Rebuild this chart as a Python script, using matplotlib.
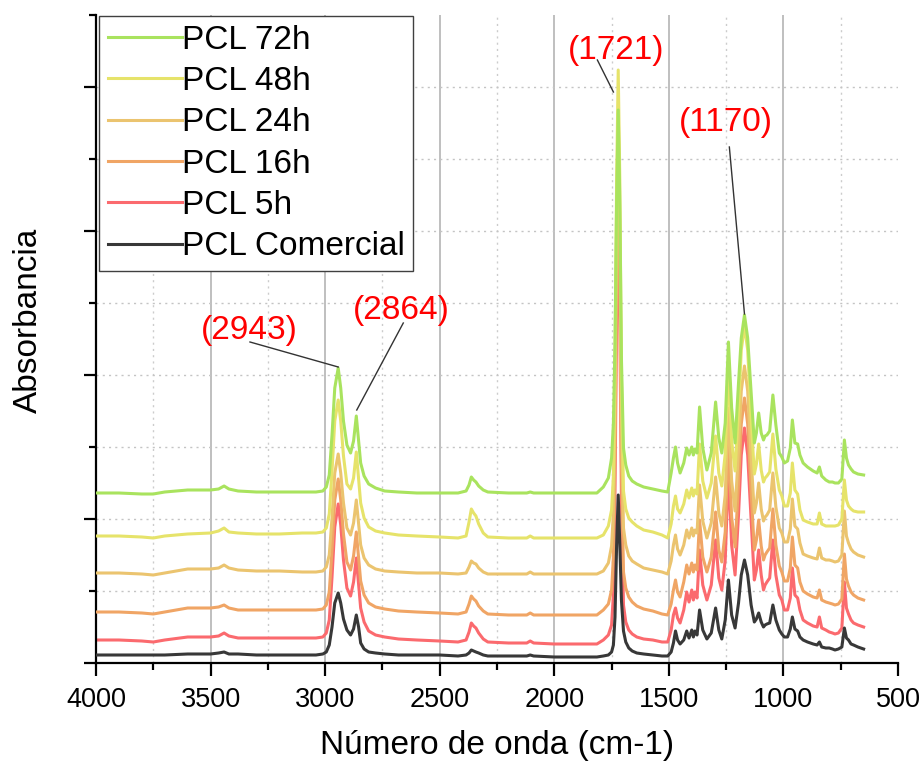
import matplotlib
matplotlib.use("Agg")
import matplotlib.pyplot as plt
from matplotlib.ticker import MultipleLocator, NullFormatter
import numpy as np

plt.rcParams['font.family'] = ['Liberation Sans', 'DejaVu Sans']

# FTIR spectra of PCL samples (absorbance in arbitrary units, before stacking)
wavenumber = [
    4000, 3900, 3800, 3750, 3700, 3600, 3500, 3465, 3441, 3420, 3380, 3300, 3200, 3100, 3040, 3010,
    2995, 2982, 2970, 2958, 2943, 2932, 2920, 2905, 2889, 2876, 2864, 2854, 2845, 2830, 2810, 2780, 2740, 2680,
    2600, 2500, 2420, 2385, 2372, 2362, 2352, 2342, 2330, 2310, 2290, 2200, 2120, 2105, 2090, 2000, 1900,
    1814, 1786, 1764, 1750, 1742, 1735, 1728, 1721, 1714, 1707, 1698, 1688, 1675, 1660, 1640, 1610, 1570, 1530, 1505,
    1490, 1480, 1471, 1462, 1451, 1435, 1422, 1412, 1400, 1393, 1386, 1377, 1366, 1352, 1334, 1315, 1296, 1282, 1269, 1254, 1240, 1226, 1211,
    1196, 1184, 1170, 1156, 1141, 1127, 1118, 1108, 1097, 1087, 1080, 1072, 1060, 1046, 1033, 1018, 1007,
    996, 982, 970, 961, 950, 938, 928, 914, 895, 870, 853, 843, 833, 815, 800, 786, 775, 760, 745, 734, 725, 716, 705, 694, 675, 650,
]

pcl_72h = [
    0, 0, -1, -1, 1, 3, 3, 4, 7, 4, 2, 1, 1, 1, 1, 2,
    6, 18, 58, 105, 125, 105, 72, 48, 40, 52, 77, 52, 30, 17, 9, 5, 2, 1,
    0, 0, 0, 2, 8, 16, 13, 11, 7, 3, 1, 0, 0, 1, 0, 0, 0,
    0, 6, 15, 35, 70, 150, 290, 383, 290, 135, 45, 28, 17, 12, 9, 6, 4, 2, 1,
    20, 35, 46, 30, 20, 30, 45, 38, 46, 38, 44, 40, 86, 45, 23, 40, 91, 55, 40, 70, 151, 85, 50,
    110, 155, 178, 155, 100, 50, 60, 80, 60, 53, 57, 58, 62, 98, 68, 40, 36,
    30, 32, 45, 73, 50, 49, 38, 30, 26, 22, 20, 26, 17, 13, 11, 11, 10, 10, 14, 53, 35, 28, 24, 21, 19, 18,
]

pcl_48h = [
    0, 0, -1, -2, 0, 2, 3, 5, 8, 4, 3, 2, 2, 3, 3, 4,
    8, 22, 65, 115, 136, 115, 80, 52, 47, 58, 84, 57, 33, 18, 9, 5, 3, 1,
    0, -1, -2, 0, 14, 27, 23, 20, 12, 3, -1, -2, -2, 0, -2, -2, -2,
    -2, 1, 10, 26, 60, 170, 355, 466, 355, 160, 45, 27, 18, 14, 10, 6, 4, 1, -2,
    12, 30, 40, 27, 23, 32, 46, 38, 48, 40, 46, 42, 92, 55, 38, 53, 100, 63, 50, 82, 170, 95, 65,
    126, 186, 210, 186, 118, 62, 72, 92, 66, 54, 58, 60, 64, 102, 67, 46, 40,
    30, 30, 43, 73, 46, 42, 26, 16, 14, 12, 12, 23, 12, 10, 10, 10, 10, 11, 17, 56, 36, 30, 27, 25, 24, 24,
]

pcl_24h = [
    0, 0, -1, -2, 0, 4, 4, 5, 8, 5, 3, 2, 2, 1, 1, 2,
    6, 18, 55, 100, 119, 100, 70, 45, 38, 50, 73, 49, 28, 15, 8, 4, 2, 1,
    0, 0, -1, 0, 6, 12, 10, 9, 5, 1, -1, -1, -1, 1, -1, -1, -1,
    -1, 2, 10, 27, 60, 165, 345, 455, 345, 155, 45, 28, 17, 12, 9, 5, 3, 1, -1,
    12, 28, 38, 24, 18, 28, 43, 35, 45, 37, 43, 40, 88, 52, 35, 50, 96, 60, 47, 78, 165, 92, 62,
    123, 182, 207, 182, 115, 60, 70, 90, 64, 52, 56, 58, 63, 100, 66, 45, 40,
    31, 31, 44, 74, 47, 44, 30, 19, 17, 15, 14, 25, 15, 13, 13, 12, 11, 12, 18, 62, 37, 30, 24, 21, 18, 16,
]

pcl_16h = [
    0, 0, -1, -2, 0, 4, 4, 5, 7, 4, 2, 2, 2, 2, 2, 3,
    7, 20, 62, 112, 133, 112, 78, 50, 42, 56, 80, 54, 31, 17, 9, 5, 3, 1,
    0, -1, -2, 0, 8, 16, 13, 11, 6, 1, -2, -3, -3, -1, -3, -3, -3,
    -3, 2, 8, 22, 55, 160, 340, 450, 340, 150, 40, 24, 15, 10, 6, 3, 1, -2, -3,
    8, 22, 32, 20, 15, 30, 47, 38, 49, 40, 47, 42, 92, 55, 40, 55, 100, 62, 50, 80, 170, 95, 65,
    128, 188, 214, 188, 120, 62, 72, 92, 66, 52, 57, 60, 64, 103, 67, 46, 40,
    31, 31, 44, 75, 47, 44, 30, 21, 18, 15, 14, 22, 12, 10, 9, 8, 7, 8, 13, 58, 33, 26, 20, 17, 14, 12,
]

pcl_5h = [
    0, 0, -1, -2, 0, 3, 3, 4, 7, 4, 2, 2, 2, 2, 2, 3,
    7, 20, 63, 113, 136, 115, 80, 52, 44, 58, 82, 55, 32, 18, 9, 5, 3, 1,
    0, -1, -2, 0, 8, 17, 14, 12, 7, 1, -2, -3, -3, -1, -3, -4, -4,
    -4, 0, 5, 15, 45, 150, 320, 430, 320, 140, 35, 18, 10, 6, 3, 1, 0, -2, -2,
    10, 25, 32, 22, 17, 30, 48, 38, 50, 40, 48, 42, 90, 55, 40, 55, 100, 62, 50, 80, 170, 95, 65,
    125, 185, 212, 185, 120, 60, 70, 90, 65, 50, 55, 58, 62, 100, 65, 45, 40,
    30, 30, 42, 72, 45, 42, 30, 20, 17, 14, 13, 23, 12, 10, 8, 7, 6, 7, 12, 58, 32, 26, 20, 17, 15, 13,
]

pcl_comercial = [
    0, 0, 0, 0, 0, 1, 1, 2, 3, 1, 1, 0, 0, 0, 0, 1,
    3, 10, 28, 52, 62, 52, 36, 25, 20, 26, 40, 28, 12, 6, 3, 2, 1, 0,
    0, 0, -1, 0, 2, 5, 4, 3, 2, 0, -1, -1, -1, 0, -1, -2, -2,
    -2, -1, 0, 3, 10, 38, 110, 160, 110, 55, 24, 13, 7, 4, 2, 1, 0, -1, -1,
    3, 12, 24, 15, 11, 15, 24, 17, 25, 18, 24, 20, 45, 25, 16, 22, 47, 25, 16, 35, 75, 40, 27,
    52, 80, 95, 80, 50, 33, 36, 42, 33, 28, 30, 31, 32, 50, 35, 25, 21,
    18, 18, 26, 38, 26, 24, 18, 15, 13, 11, 10, 13, 8, 7, 7, 6, 5, 6, 8, 27, 17, 15, 11, 10, 8, 6,
]

series_labels = ["PCL 72h", "PCL 48h", "PCL 24h", "PCL 16h", "PCL 5h", "PCL Comercial"]
series_values = [pcl_72h, pcl_48h, pcl_24h, pcl_16h, pcl_5h, pcl_comercial]
stack_offsets = [170, 127, 90, 51, 23, 8]
series_colors = ["#a9e35e", "#e6e36a", "#ebc46f", "#f0a565", "#fb6a6e", "#383838"]
series_zorder = [6, 5, 4, 3, 2, 7]

# Peak labels: text, text centre, connector end
peak_labels = ["(2943)", "(2864)", "(1721)", "(1170)"]
label_xy = [(3332, 332), (2669, 352), (1731, 612), (1251, 541)]
line_start = [(3328, 321), (2659, 340), (1812, 603), (1236, 516)]
line_end = [(2943, 296), (2862, 253), (1742, 571), (1170, 349)]

fig = plt.figure(figsize=(9.24, 7.62), dpi=100)
ax = fig.add_axes([96 / 924, 99 / 762, 802 / 924, 648 / 762])

x = np.array(wavenumber, dtype=float)
for lab, vals, off, col, z in zip(series_labels, series_values, stack_offsets,
                                  series_colors, series_zorder):
    ax.plot(x, np.array(vals, dtype=float) + off, color=col, lw=2.2,
            label=lab, zorder=z, solid_joinstyle='round')

ax.set_xlim(4000, 500)
ax.set_ylim(0, 648)

# grid
for gx in [3500, 3000, 2500, 2000, 1500, 1000]:
    ax.axvline(gx, color="#b4b4b4", lw=1.2, zorder=0.5)
for gx in [3750, 3250, 2750, 2250, 1750, 1250, 750]:
    ax.axvline(gx, color="#cccccc", lw=1.0, ls=(0, (1.5, 3)), zorder=0.5)
for gy in [72, 144, 216, 288, 360, 432, 504, 576]:
    ax.axhline(gy, color="#c4c4c4", lw=1.0, ls=(0, (1.5, 3)), zorder=0.5)

ax.xaxis.set_major_locator(MultipleLocator(500))
ax.xaxis.set_minor_locator(MultipleLocator(250))
ax.yaxis.set_major_locator(MultipleLocator(144))
ax.yaxis.set_minor_locator(MultipleLocator(72))
ax.yaxis.set_major_formatter(NullFormatter())

for side in ["top", "right"]:
    ax.spines[side].set_visible(False)
for side in ["left", "bottom"]:
    ax.spines[side].set_linewidth(1.6)
    ax.spines[side].set_color("black")

ax.tick_params(axis="both", which="major", direction="out", length=9, width=1.6,
               labelsize=19.5, pad=8)
ax.tick_params(axis="both", which="minor", direction="out", length=5, width=1.6)
ax.tick_params(axis="y", labelleft=False)

ax.set_xlabel("Número de onda (cm-1)", fontsize=24)
ax.set_ylabel("Absorbancia", fontsize=24)
ax.xaxis.set_label_coords(0.5, -0.103)
ax.yaxis.set_label_coords(-0.065, 0.528)

for txt, tpos, ls, le in zip(peak_labels, label_xy, line_start, line_end):
    ax.plot([ls[0], le[0]], [ls[1], le[1]], color="#333333", lw=1.0, zorder=8)
    ax.text(tpos[0], tpos[1], txt, color="#ff0000", fontsize=24,
            ha="center", va="center", zorder=9)

leg = ax.legend(loc="upper left", bbox_to_anchor=(0.004, 0.999), fontsize=24,
                handlelength=2.2, handletextpad=0.0, borderpad=0.27,
                labelspacing=0.31, borderaxespad=0, fancybox=False,
                framealpha=1, edgecolor="#404040")
leg.get_frame().set_linewidth(1.0)
leg.set_zorder(10)

fig.savefig("out.png", dpi=100)
